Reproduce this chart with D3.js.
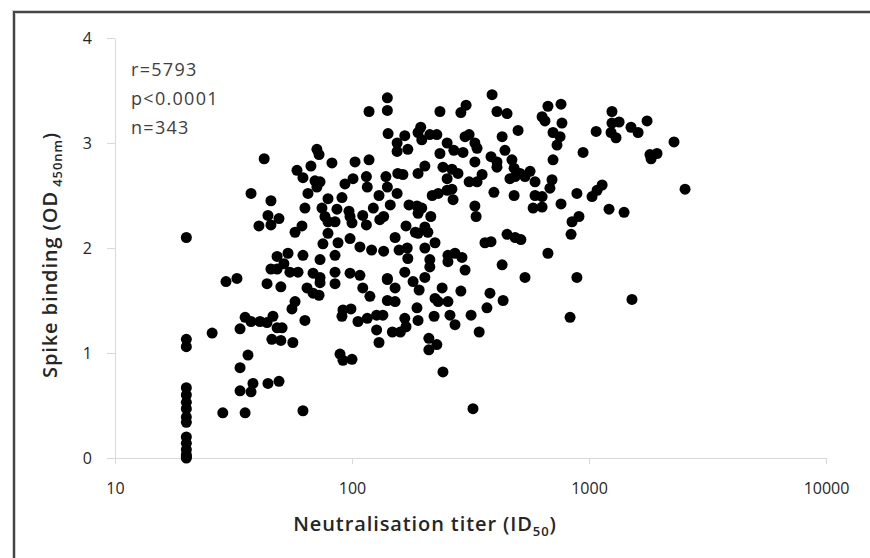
<!DOCTYPE html>
<html>
<head>
<meta charset="utf-8">
<script src="https://cdn.jsdelivr.net/npm/d3@7"></script>
<style>
  body { margin: 0; background: #fff; }
  svg { display: block; font-family: "Open Sans", "Noto Sans", sans-serif; }
  .axis path, .axis line { stroke: #d9d9d9; }
  .axis text { fill: #262626; font-size: 16px; font-family: "Open Sans", sans-serif; }
</style>
</head>
<body>
<svg id="chart"></svg>
<script>
// values: neutralisation titer (ID50) and spike binding (OD450nm)
const titer = [
  42.6, 37.5, 45.5, 44.2, 40.5, 45.5, 49.2, 48.3, 45.5, 48.3, 51.6,
  141, 141, 118, 142, 167, 155, 155, 172, 71.1, 72.6, 82.3, 103, 118, 58.6, 62.1, 67.1, 69.8, 73.3,
  71.1, 65.2, 93.4, 101, 115, 116, 139, 141, 156, 164, 155, 130, 79.2, 90.7, 63.3, 74.7, 86.4, 97.1,
  123, 145, 174, 61.5, 57.5, 76.9, 79.2, 84.8, 98.1, 100, 111, 115, 131, 136, 169, 185, 79.2, 87.3,
  75.4, 98.1, 108, 121, 136, 152, 158, 171, 84.8, 53.7, 62.1, 73.3, 172,
  390, 303, 288, 235, 409, 451, 671, 634, 652, 502, 195, 190, 197, 213, 228, 300, 312, 330, 337, 252,
  269, 235, 294, 430, 442, 386, 409, 330, 473, 705, 705, 203, 190, 242, 264, 280, 252, 409, 483, 488,
  512, 564, 537, 464, 312, 337, 354, 592, 698, 592, 634, 581, 634, 684, 397, 483, 218, 231, 252, 264,
  267, 330, 334, 188, 197, 190, 215, 203, 209, 190, 224, 203, 451, 488, 516, 364, 386, 671, 254, 272,
  291, 213, 254, 430, 300, 213,
  762, 1250, 1250, 1340, 1239, 1300, 1504, 1611, 1758, 769, 755, 733, 1072, 944, 2284, 1808, 1936, 1828,
  889, 1030, 1082, 1136, 762, 2543, 1215, 1406, 848, 907, 840,
  29.4, 32.7, 43.8, 50.1, 35.4, 33.7, 37.5, 40.9, 43.8, 46.4, 48.3, 50.7, 45.9, 50.1, 25.7, 36.4, 33.7,
  38.2, 37.5, 33.7, 44.2, 49.2, 28.5, 35.4,
  54.7, 59.2, 68.5, 73.3, 84.8, 98.1, 108, 141, 167, 64.6, 68.5, 72.6, 73.3, 84.8, 111, 119, 141, 152,
  152, 141, 181, 188, 190, 57.5, 55.8, 63.3, 56.3, 91.6, 99.0, 90.7, 106, 116, 127, 135, 127, 130, 148,
  160, 167, 169, 89.0, 91.6, 100, 62.1,
  203, 192, 240, 224, 231, 254, 288, 382, 434, 371, 318, 222, 259, 272, 344, 211, 228, 211, 242, 324, 537,
  889, 1518, 832
];
const od = [
  2.85, 2.52, 2.45, 2.31, 2.21, 2.22, 2.28, 1.92, 1.80, 1.80, 1.85,
  3.43, 3.31, 3.30, 3.09, 3.07, 3.00, 2.92, 2.94, 2.94, 2.89, 2.81, 2.82, 2.84, 2.74, 2.67, 2.78, 2.64, 2.63,
  2.58, 2.52, 2.61, 2.66, 2.68, 2.58, 2.68, 2.58, 2.71, 2.70, 2.52, 2.50, 2.47, 2.48, 2.38, 2.38, 2.37, 2.35,
  2.38, 2.41, 2.41, 2.21, 2.15, 2.30, 2.25, 2.25, 2.30, 2.24, 2.31, 2.22, 2.27, 2.30, 2.21, 2.15, 2.14, 2.05,
  2.04, 2.09, 2.01, 1.98, 1.97, 2.10, 1.98, 2.00, 1.93, 1.95, 1.93, 1.89, 1.90,
  3.46, 3.36, 3.29, 3.30, 3.30, 3.28, 3.35, 3.25, 3.21, 3.12, 3.15, 3.10, 3.03, 3.08, 3.08, 3.06, 3.08, 3.00, 2.95, 3.00,
  2.93, 2.90, 2.91, 3.06, 2.93, 2.87, 2.82, 2.82, 2.84, 3.10, 2.84, 2.78, 2.71, 2.77, 2.75, 2.71, 2.66, 2.77, 2.76, 2.68,
  2.71, 2.73, 2.68, 2.66, 2.63, 2.63, 2.70, 2.63, 2.65, 2.50, 2.49, 2.38, 2.39, 2.57, 2.53, 2.50, 2.50, 2.52, 2.55, 2.56,
  2.46, 2.40, 2.30, 2.40, 2.38, 2.33, 2.30, 2.20, 2.15, 2.14, 2.05, 2.00, 2.13, 2.10, 2.08, 2.05, 2.06, 1.95, 1.93, 1.95,
  1.91, 1.89, 1.87, 1.84, 1.79, 1.82,
  3.37, 3.30, 3.19, 3.20, 3.10, 3.05, 3.15, 3.10, 3.21, 3.19, 3.06, 2.98, 3.11, 2.91, 3.01, 2.89, 2.90, 2.85,
  2.52, 2.49, 2.55, 2.60, 2.42, 2.56, 2.37, 2.34, 2.25, 2.30, 2.13,
  1.68, 1.71, 1.66, 1.63, 1.34, 1.23, 1.30, 1.30, 1.29, 1.35, 1.24, 1.24, 1.13, 1.12, 1.19, 0.98, 0.86,
  0.71, 0.63, 0.64, 0.71, 0.73, 0.43, 0.43,
  1.77, 1.77, 1.76, 1.72, 1.77, 1.76, 1.74, 1.71, 1.77, 1.62, 1.57, 1.55, 1.67, 1.66, 1.62, 1.54, 1.70, 1.62,
  1.49, 1.50, 1.68, 1.43, 1.31, 1.49, 1.42, 1.31, 1.10, 1.41, 1.42, 1.35, 1.30, 1.33, 1.36, 1.36, 1.22, 1.10, 1.20,
  1.20, 1.33, 1.25, 0.99, 0.93, 0.94, 0.45,
  1.72, 1.60, 1.62, 1.52, 1.49, 1.49, 1.59, 1.57, 1.50, 1.43, 1.36, 1.35, 1.36, 1.27, 1.20, 1.14, 1.08, 1.03, 0.82, 0.47, 1.72,
  1.72, 1.51, 1.34
];
// samples at the lower limit of the assay (titer 20)
const limitTiter = 20;
const limitOD = [2.10, 1.13, 1.06, 0.67, 0.60, 0.53, 0.47, 0.39, 0.34, 0.20, 0.14, 0.08, 0.03, 0.01, 0.0];

const xTicks = [10, 100, 1000, 10000];
const yTicks = [0, 1, 2, 3, 4];
const stats = ['r=5793', 'p<0.0001', 'n=343'];

const W = 870, H = 558;
const svg = d3.select('#chart').attr('width', W).attr('height', H);

// outer frame
svg.append('path').attr('d', `M14,${ H + 5 }V12H${ W + 5 }`).attr('fill', 'none').attr('stroke', '#d0d0d0').attr('stroke-width', 4);
svg.append('path').attr('d', `M14,${ H + 5 }V12H${ W + 5 }`).attr('fill', 'none').attr('stroke', '#454545').attr('stroke-width', 2);

const x = d3.scaleLog().domain([10, 10000]).range([115, 826]);
const y = d3.scaleLinear().domain([0, 4]).range([458, 38]);

svg.append('g').attr('class', 'axis').attr('transform', `translate(0, ${ y(0) })`)
  .call(d3.axisBottom(x).tickValues(xTicks).tickFormat(d3.format('d')).tickSizeInner(6).tickSizeOuter(0).tickPadding(19));
svg.append('g').attr('class', 'axis').attr('transform', `translate(${ x(10) }, 0)`)
  .call(d3.axisLeft(y).tickValues(yTicks).tickFormat(d3.format('d')).tickSizeInner(8).tickSizeOuter(0).tickPadding(15));

// stats annotation
svg.append('g').selectAll('text').data(stats).join('text')
  .attr('x', 131).attr('y', (d, i) => 76 + i * 29)
  .style('font-size', '18px').style('letter-spacing', '1.3px').attr('fill', '#404040')
  .text(d => d);

// points
const pts = titer.map((t, i) => [t, od[i]]).concat(limitOD.map(v => [limitTiter, v]));
svg.append('g').selectAll('circle').data(pts).join('circle')
  .attr('cx', d => x(d[0])).attr('cy', d => y(d[1])).attr('r', 5.5).attr('fill', '#000');

// axis titles
const xt = svg.append('text').attr('x', 425).attr('y', 531).attr('text-anchor', 'middle')
  .style('font-size', '20px').style('font-weight', 600).style('letter-spacing', '0.9px').attr('fill', '#262626');
xt.append('tspan').text('Neutralisation titer (ID');
xt.append('tspan').attr('dy', 5).style('font-size', '13px').text('50');
xt.append('tspan').attr('dy', -5).text(')');

const yt = svg.append('text').attr('transform', 'translate(57, 255) rotate(-90)').attr('text-anchor', 'middle')
  .style('font-size', '20px').style('font-weight', 600).style('letter-spacing', '0.9px').attr('fill', '#262626');
yt.append('tspan').text('Spike binding (OD');
yt.append('tspan').attr('dy', 5).style('font-size', '13px').text(' 450nm');
yt.append('tspan').attr('dy', -5).text(')');
</script>
</body>
</html>
